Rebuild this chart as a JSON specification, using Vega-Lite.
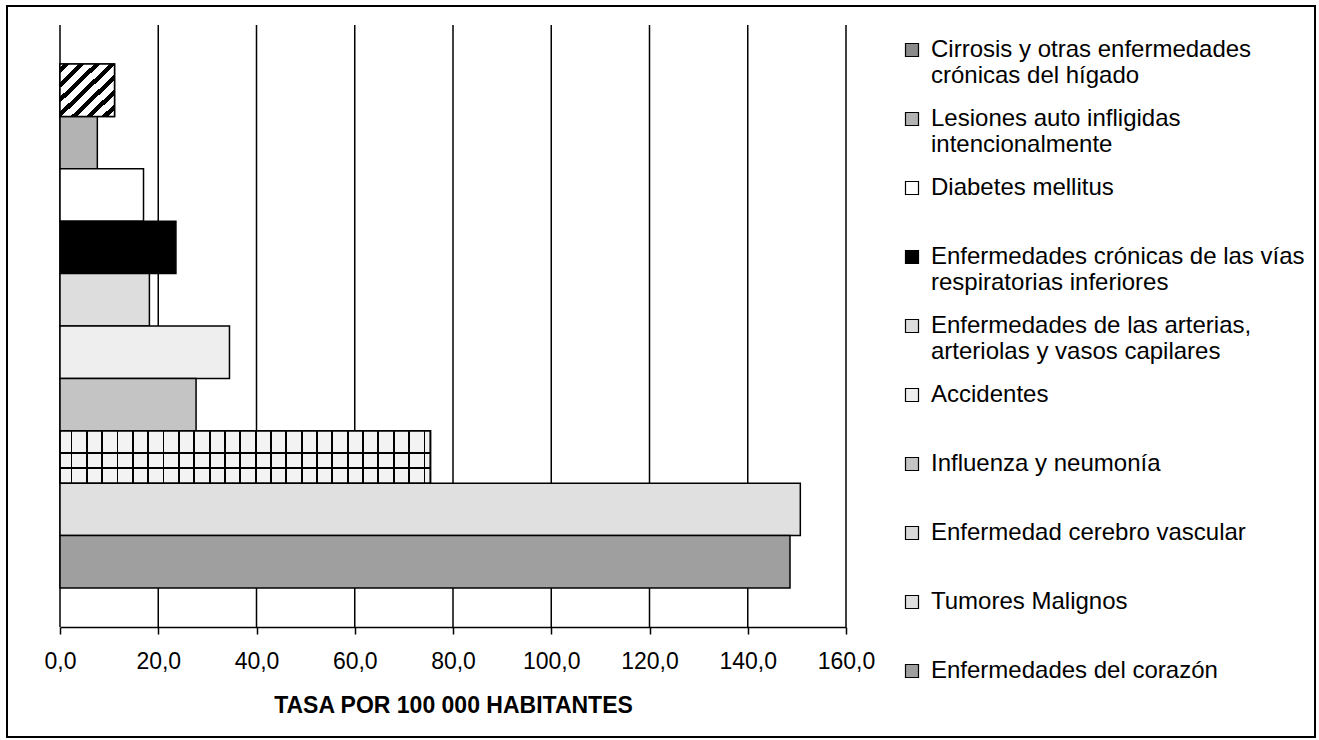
{
  "$schema": "https://vega.github.io/schema/vega-lite/v6.json",
  "width": 1308,
  "height": 731,
  "autosize": {"type": "none"},
  "padding": {"left": 7, "top": 6, "right": 4, "bottom": 3},
  "background": "white",
  "config": {"view": {"stroke": "black", "strokeWidth": 2}, "font": "Liberation Sans"},
  "datasets": {
    "causas": [
      {"causa": "Cirrosis y otras enfermedades crónicas del hígado", "tasa": 11.1},
      {"causa": "Lesiones auto infligidas intencionalmente", "tasa": 7.6},
      {"causa": "Diabetes mellitus", "tasa": 17.0},
      {"causa": "Enfermedades crónicas de las vías respiratorias inferiores", "tasa": 23.6},
      {"causa": "Enfermedades de las arterias, arteriolas y vasos capilares", "tasa": 18.2},
      {"causa": "Accidentes", "tasa": 34.5},
      {"causa": "Influenza y neumonía", "tasa": 27.7},
      {"causa": "Enfermedad cerebro vascular", "tasa": 75.4},
      {"causa": "Tumores Malignos", "tasa": 150.7},
      {"causa": "Enfermedades del corazón", "tasa": 148.6}
    ],
    "grid": [{"v": 0}, {"v": 20}, {"v": 40}, {"v": 60}, {"v": 80}, {"v": 100}, {"v": 120}, {"v": 140}, {"v": 160}]
  },
  "layer": [
    {
      "data": {"name": "grid"},
      "mark": {"type": "rule", "color": "black", "strokeWidth": 1.5},
      "encoding": {
        "x": {"field": "v", "type": "quantitative", "scale": {"domain": [0, 160], "range": [53, 839], "nice": false}},
        "y": {"datum": 0, "type": "quantitative", "scale": {"domain": [0, 1], "range": [621, 19]}, "axis": null},
        "y2": {"datum": 1}
      }
    },
    {
      "data": {"name": "causas"},
      "encoding": {
        "y": {
          "field": "causa", "type": "nominal",
          "sort": ["Cirrosis y otras enfermedades crónicas del hígado", "Lesiones auto infligidas intencionalmente", "Diabetes mellitus", "Enfermedades crónicas de las vías respiratorias inferiores", "Enfermedades de las arterias, arteriolas y vasos capilares", "Accidentes", "Influenza y neumonía", "Enfermedad cerebro vascular", "Tumores Malignos", "Enfermedades del corazón"],
          "scale": {"range": [19, 621], "paddingInner": 0, "paddingOuter": 0.745},
          "axis": null
        },
        "x": {
          "field": "tasa", "type": "quantitative",
          "scale": {"domain": [0, 160], "range": [53, 839], "nice": false},
          "axis": {
            "values": [0, 20, 40, 60, 80, 100, 120, 140, 160],
            "labelExpr": "replace(format(datum.value, '.1f'), '.', ',')",
            "offset": -110,
            "grid": false,
            "domainColor": "black", "domainWidth": 1.5,
            "tickColor": "black", "tickWidth": 1.5, "tickSize": 7,
            "labelFontSize": 23, "labelColor": "black", "labelPadding": 16, "labelFlush": false,
            "title": "TASA POR 100 000 HABITANTES",
            "titleFontSize": 23, "titleFontWeight": "bold", "titleColor": "black", "titlePadding": 21
          }
        }
      },
      "layer": [
        {
          "mark": {"type": "bar", "stroke": "black", "strokeWidth": 1.5},
          "encoding": {
            "fill": {
              "field": "causa", "type": "nominal",
              "scale": {
                "domain": ["Cirrosis y otras enfermedades crónicas del hígado", "Lesiones auto infligidas intencionalmente", "Diabetes mellitus", "Enfermedades crónicas de las vías respiratorias inferiores", "Enfermedades de las arterias, arteriolas y vasos capilares", "Accidentes", "Influenza y neumonía", "Enfermedad cerebro vascular", "Tumores Malignos", "Enfermedades del corazón"],
                "range": ["#8a8a8a", "#b3b3b3", "#ffffff", "#000000", "#dddddd", "#eeeeee", "#c4c4c4", "#d9d9d9", "#e0e0e0", "#9f9f9f"]
              },
              "legend": {
                "orient": "none", "legendX": 893, "legendY": 32,
                "title": null, "padding": 0,
                "symbolType": "square", "symbolSize": 169, "symbolStrokeColor": "black", "symbolStrokeWidth": 1.2,
                "labelFontSize": 24, "labelColor": "black", "labelLimit": 500, "labelOffset": 7,
                "labelBaseline": "middle", "labelLineHeight": 28,
                "rowPadding": 19,
                "labelExpr": "datum.label == 'Cirrosis y otras enfermedades crónicas del hígado' ? ['Cirrosis y otras enfermedades', 'crónicas del hígado'] : datum.label == 'Lesiones auto infligidas intencionalmente' ? ['Lesiones auto infligidas', 'intencionalmente'] : datum.label == 'Enfermedades crónicas de las vías respiratorias inferiores' ? ['Enfermedades crónicas de las vías', 'respiratorias inferiores'] : datum.label == 'Enfermedades de las arterias, arteriolas y vasos capilares' ? ['Enfermedades de las arterias,', 'arteriolas y vasos capilares'] : [datum.label, '']"
              }
            }
          }
        },
        {
          "transform": [{"filter": "datum.causa == 'Cirrosis y otras enfermedades crónicas del hígado'"}],
          "mark": {
            "type": "bar", "stroke": "black", "strokeWidth": 1.5,
            "fill": {
              "gradient": "linear", "x1": 0, "y1": 0, "x2": 1, "y2": 1,
              "stops": [
                {"offset": 0, "color": "#ffffff"},
                {"offset": 0.03, "color": "#ffffff"}, {"offset": 0.03, "color": "#000000"}, {"offset": 0.087, "color": "#000000"}, {"offset": 0.087, "color": "#ffffff"},
                {"offset": 0.1715, "color": "#ffffff"}, {"offset": 0.1715, "color": "#000000"}, {"offset": 0.2285, "color": "#000000"}, {"offset": 0.2285, "color": "#ffffff"},
                {"offset": 0.313, "color": "#ffffff"}, {"offset": 0.313, "color": "#000000"}, {"offset": 0.37, "color": "#000000"}, {"offset": 0.37, "color": "#ffffff"},
                {"offset": 0.4545, "color": "#ffffff"}, {"offset": 0.4545, "color": "#000000"}, {"offset": 0.5115, "color": "#000000"}, {"offset": 0.5115, "color": "#ffffff"},
                {"offset": 0.596, "color": "#ffffff"}, {"offset": 0.596, "color": "#000000"}, {"offset": 0.653, "color": "#000000"}, {"offset": 0.653, "color": "#ffffff"},
                {"offset": 0.7375, "color": "#ffffff"}, {"offset": 0.7375, "color": "#000000"}, {"offset": 0.7945, "color": "#000000"}, {"offset": 0.7945, "color": "#ffffff"},
                {"offset": 0.879, "color": "#ffffff"}, {"offset": 0.879, "color": "#000000"}, {"offset": 0.936, "color": "#000000"}, {"offset": 0.936, "color": "#ffffff"},
                {"offset": 1, "color": "#ffffff"}
              ]
            }
          }
        },
        {
          "transform": [{"filter": "datum.causa == 'Enfermedad cerebro vascular'"}],
          "mark": {
            "type": "bar", "stroke": "black", "strokeWidth": 1.5,
            "fill": {
              "gradient": "linear", "x1": 0, "y1": 0, "x2": 1, "y2": 0,
              "stops": [
                {"offset": 0, "color": "#f3f3f3"},
                {"offset": 0.0285, "color": "#f3f3f3"}, {"offset": 0.0285, "color": "#000000"}, {"offset": 0.0335, "color": "#000000"}, {"offset": 0.0335, "color": "#f3f3f3"},
                {"offset": 0.0699, "color": "#f3f3f3"}, {"offset": 0.0699, "color": "#000000"}, {"offset": 0.0749, "color": "#000000"}, {"offset": 0.0749, "color": "#f3f3f3"},
                {"offset": 0.1114, "color": "#f3f3f3"}, {"offset": 0.1114, "color": "#000000"}, {"offset": 0.1164, "color": "#000000"}, {"offset": 0.1164, "color": "#f3f3f3"},
                {"offset": 0.1528, "color": "#f3f3f3"}, {"offset": 0.1528, "color": "#000000"}, {"offset": 0.1578, "color": "#000000"}, {"offset": 0.1578, "color": "#f3f3f3"},
                {"offset": 0.1942, "color": "#f3f3f3"}, {"offset": 0.1942, "color": "#000000"}, {"offset": 0.1992, "color": "#000000"}, {"offset": 0.1992, "color": "#f3f3f3"},
                {"offset": 0.2357, "color": "#f3f3f3"}, {"offset": 0.2357, "color": "#000000"}, {"offset": 0.2407, "color": "#000000"}, {"offset": 0.2407, "color": "#f3f3f3"},
                {"offset": 0.2771, "color": "#f3f3f3"}, {"offset": 0.2771, "color": "#000000"}, {"offset": 0.2821, "color": "#000000"}, {"offset": 0.2821, "color": "#f3f3f3"},
                {"offset": 0.3185, "color": "#f3f3f3"}, {"offset": 0.3185, "color": "#000000"}, {"offset": 0.3235, "color": "#000000"}, {"offset": 0.3235, "color": "#f3f3f3"},
                {"offset": 0.3599, "color": "#f3f3f3"}, {"offset": 0.3599, "color": "#000000"}, {"offset": 0.3649, "color": "#000000"}, {"offset": 0.3649, "color": "#f3f3f3"},
                {"offset": 0.4014, "color": "#f3f3f3"}, {"offset": 0.4014, "color": "#000000"}, {"offset": 0.4064, "color": "#000000"}, {"offset": 0.4064, "color": "#f3f3f3"},
                {"offset": 0.4428, "color": "#f3f3f3"}, {"offset": 0.4428, "color": "#000000"}, {"offset": 0.4478, "color": "#000000"}, {"offset": 0.4478, "color": "#f3f3f3"},
                {"offset": 0.4842, "color": "#f3f3f3"}, {"offset": 0.4842, "color": "#000000"}, {"offset": 0.4892, "color": "#000000"}, {"offset": 0.4892, "color": "#f3f3f3"},
                {"offset": 0.5257, "color": "#f3f3f3"}, {"offset": 0.5257, "color": "#000000"}, {"offset": 0.5307, "color": "#000000"}, {"offset": 0.5307, "color": "#f3f3f3"},
                {"offset": 0.5671, "color": "#f3f3f3"}, {"offset": 0.5671, "color": "#000000"}, {"offset": 0.5721, "color": "#000000"}, {"offset": 0.5721, "color": "#f3f3f3"},
                {"offset": 0.6085, "color": "#f3f3f3"}, {"offset": 0.6085, "color": "#000000"}, {"offset": 0.6135, "color": "#000000"}, {"offset": 0.6135, "color": "#f3f3f3"},
                {"offset": 0.65, "color": "#f3f3f3"}, {"offset": 0.65, "color": "#000000"}, {"offset": 0.655, "color": "#000000"}, {"offset": 0.655, "color": "#f3f3f3"},
                {"offset": 0.6914, "color": "#f3f3f3"}, {"offset": 0.6914, "color": "#000000"}, {"offset": 0.6964, "color": "#000000"}, {"offset": 0.6964, "color": "#f3f3f3"},
                {"offset": 0.7328, "color": "#f3f3f3"}, {"offset": 0.7328, "color": "#000000"}, {"offset": 0.7378, "color": "#000000"}, {"offset": 0.7378, "color": "#f3f3f3"},
                {"offset": 0.7742, "color": "#f3f3f3"}, {"offset": 0.7742, "color": "#000000"}, {"offset": 0.7792, "color": "#000000"}, {"offset": 0.7792, "color": "#f3f3f3"},
                {"offset": 0.8157, "color": "#f3f3f3"}, {"offset": 0.8157, "color": "#000000"}, {"offset": 0.8207, "color": "#000000"}, {"offset": 0.8207, "color": "#f3f3f3"},
                {"offset": 0.8571, "color": "#f3f3f3"}, {"offset": 0.8571, "color": "#000000"}, {"offset": 0.8621, "color": "#000000"}, {"offset": 0.8621, "color": "#f3f3f3"},
                {"offset": 0.8985, "color": "#f3f3f3"}, {"offset": 0.8985, "color": "#000000"}, {"offset": 0.9035, "color": "#000000"}, {"offset": 0.9035, "color": "#f3f3f3"},
                {"offset": 0.94, "color": "#f3f3f3"}, {"offset": 0.94, "color": "#000000"}, {"offset": 0.945, "color": "#000000"}, {"offset": 0.945, "color": "#f3f3f3"},
                {"offset": 0.9814, "color": "#f3f3f3"}, {"offset": 0.9814, "color": "#000000"}, {"offset": 0.9864, "color": "#000000"}, {"offset": 0.9864, "color": "#f3f3f3"},
                {"offset": 1, "color": "#f3f3f3"}
              ]
            }
          }
        },
        {
          "transform": [{"filter": "datum.causa == 'Enfermedad cerebro vascular'"}],
          "mark": {
            "type": "bar", "stroke": "black", "strokeWidth": 1.5,
            "fill": {
              "gradient": "linear", "x1": 0, "y1": 0, "x2": 0, "y2": 1,
              "stops": [
                {"offset": 0, "color": "rgba(0,0,0,0)"},
                {"offset": 0.405, "color": "rgba(0,0,0,0)"}, {"offset": 0.405, "color": "#000000"}, {"offset": 0.435, "color": "#000000"}, {"offset": 0.435, "color": "rgba(0,0,0,0)"},
                {"offset": 0.695, "color": "rgba(0,0,0,0)"}, {"offset": 0.695, "color": "#000000"}, {"offset": 0.725, "color": "#000000"}, {"offset": 0.725, "color": "rgba(0,0,0,0)"},
                {"offset": 1, "color": "rgba(0,0,0,0)"}
              ]
            }
          }
        }
      ]
    }
  ],
  "resolve": {"scale": {"y": "independent"}}
}
